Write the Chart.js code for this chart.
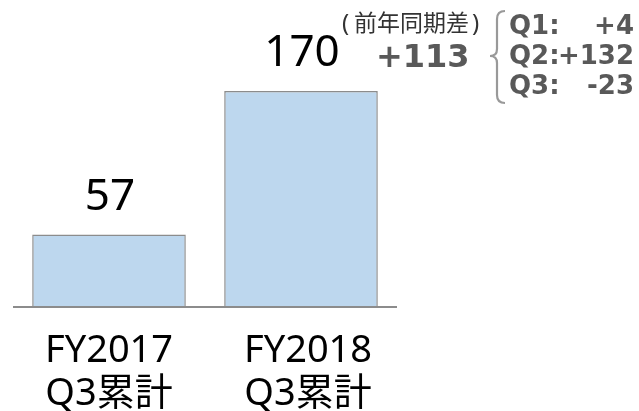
<!DOCTYPE html>
<html>
<head>
<meta charset="utf-8">
<script src="https://cdn.jsdelivr.net/npm/chart.js@4/dist/chart.umd.min.js"></script>
<style>
html,body{margin:0;padding:0;background:#fff;}
#wrap{width:639px;height:411px;position:relative;}
</style>
</head>
<body>
<div id="wrap"><canvas id="c" width="639" height="411"></canvas></div>
<script>
const categories = [["FY2017", "Q3累計"], ["FY2018", "Q3累計"]];
const values = [57, 170];
const diffTitle = "(前年同期差)";
const diffTotal = "+113";
const quarterLabels = ["Q1:", "Q2:", "Q3:"];
const quarterDiffs = ["+4", "+132", "-23"];

const labelPlugin = {
  id: 'labels',
  afterDatasetsDraw(chart) {
    const ctx = chart.ctx;
    const area = chart.chartArea;
    const y0 = chart.scales.y.getPixelForValue(0);
    ctx.save();
    // axis line
    ctx.strokeStyle = '#8c8c8c';
    ctx.lineWidth = 2;
    ctx.beginPath();
    ctx.moveTo(area.left, y0);
    ctx.lineTo(area.right, y0);
    ctx.stroke();

    const meta = chart.getDatasetMeta(0);
    const catOffsets = [0, 7];
    meta.data.forEach((bar, i) => {
      ctx.fillStyle = '#000';
      ctx.textAlign = 'center';
      ctx.textBaseline = 'alphabetic';
      ctx.font = '44px "Noto Sans", "Noto Sans CJK JP", sans-serif';
      ctx.fillText(String(values[i]), bar.x + 1, bar.y - 25);
      ctx.font = '38px "Noto Sans", "Noto Sans CJK JP", sans-serif';
      categories[i].forEach((line, j) => {
        ctx.fillText(line, bar.x + catOffsets[i], y0 + 55 + j * 43);
      });
    });

    // annotation title: parentheses drawn apart from the inner text
    ctx.textAlign = 'left';
    ctx.fillStyle = '#333333';
    const open = diffTitle.slice(0, 1);
    const inner = diffTitle.slice(1, -1);
    const close = diffTitle.slice(-1);
    ctx.font = '24px "Noto Sans", sans-serif';
    ctx.fillText(open, 342, 31);
    ctx.font = '23px "Noto Sans CJK JP", sans-serif';
    ctx.fillText(inner, 354, 31);
    const iw = ctx.measureText(inner).width;
    ctx.font = '24px "Noto Sans", sans-serif';
    ctx.fillText(close, 354 + iw + 3, 31);

    ctx.fillStyle = '#595959';
    ctx.font = 'bold 32px "DejaVu Sans", sans-serif';
    ctx.fillText(diffTotal, 376, 67);

    // brace
    ctx.strokeStyle = '#999999';
    ctx.lineWidth = 2.2;
    ctx.beginPath();
    ctx.moveTo(505, 11);
    ctx.quadraticCurveTo(497, 11, 497, 19);
    ctx.lineTo(497, 49);
    ctx.quadraticCurveTo(497, 56, 490, 56);
    ctx.quadraticCurveTo(497, 56, 497, 63);
    ctx.lineTo(497, 95);
    ctx.quadraticCurveTo(497, 103, 505, 103);
    ctx.stroke();

    ctx.fillStyle = '#595959';
    ctx.font = 'bold 26px "DejaVu Sans", sans-serif';
    quarterLabels.forEach((q, k) => {
      const by = 34 + k * 30;
      ctx.textAlign = 'left';
      ctx.fillText(q, 509, by);
      ctx.textAlign = 'right';
      ctx.fillText(quarterDiffs[k], 634, by);
    });
    ctx.restore();
  }
};

new Chart(document.getElementById('c'), {
  type: 'bar',
  data: {
    labels: categories,
    datasets: [{
      data: values,
      backgroundColor: '#BDD7EE',
      borderColor: '#8c8c8c',
      borderWidth: 1.5,
      borderSkipped: 'start',
      categoryPercentage: 1.0,
      barPercentage: 0.8
    }]
  },
  options: {
    responsive: false,
    animation: false,
    devicePixelRatio: 1,
    layout: { padding: { left: 13, right: 242, top: 53, bottom: 104 } },
    plugins: { legend: { display: false }, tooltip: { enabled: false } },
    scales: {
      x: { display: false },
      y: { display: false, min: 0, max: 200 }
    }
  },
  plugins: [labelPlugin]
});
</script>
</body>
</html>
